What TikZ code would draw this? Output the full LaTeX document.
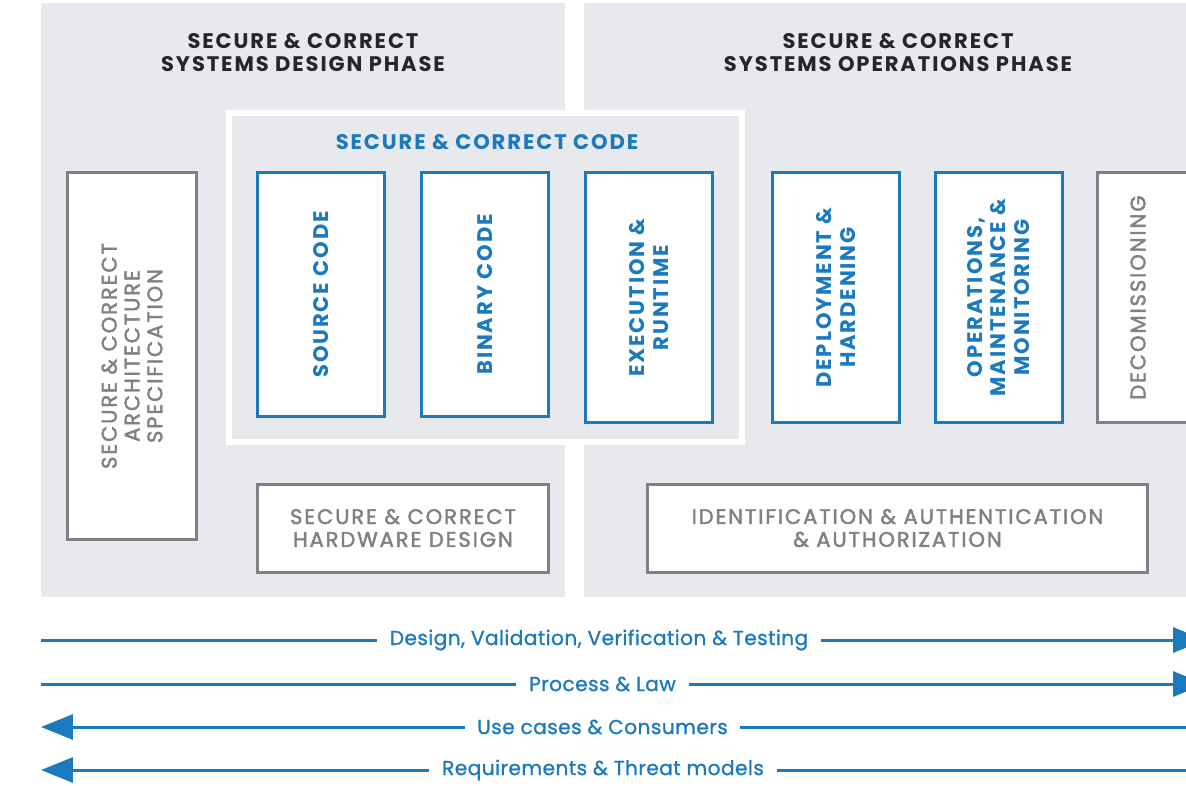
\documentclass[tikz,border=0pt]{standalone}
\usepackage{fontspec}
\setmainfont{Poppins}
\newfontfamily\capsfont[LetterSpace=9]{Poppins}
\newfontfamily\medcapsfont[LetterSpace=9,FakeBold=2]{Poppins}
\newfontfamily\flowfont[LetterSpace=2,FakeBold=1]{Poppins}
\usetikzlibrary{arrows.meta}

\definecolor{panelgray}{RGB}{232,233,236}
\definecolor{boxblue}{RGB}{27,121,190}
\definecolor{boxgray}{RGB}{128,128,135}
\definecolor{titledark}{RGB}{38,38,40}

\begin{document}
\begin{tikzpicture}[x=0.02cm, y=-0.02cm,
    panel/.style={fill=panelgray},
    codepanel/.style={fill=panelgray, draw=white, line width=0.11cm},
    heading/.style={font=\capsfont\bfseries\fontsize{12}{13}\selectfont, align=center},
    bluebox/.style={draw=boxblue, line width=0.06cm, fill=white, text=boxblue, inner sep=0pt,
      font=\capsfont\bfseries\fontsize{12}{13.5}\selectfont, align=center},
    graybox/.style={draw=boxgray, line width=0.06cm, fill=white, text=boxgray, inner sep=0pt,
      font=\medcapsfont\fontsize{12}{13}\selectfont, align=center},
    flowlabel/.style={text=boxblue, font=\flowfont\fontsize{11.5}{13}\selectfont, inner xsep=7pt},
    flow/.style={draw=boxblue, line width=0.06cm},
    tip/.style={-{Triangle[length=0.64cm, width=0.5cm]}}
  ]
  \useasboundingbox (0,0) rectangle (1186,785);
  \clip (0,0) rectangle (1186,785);

  % the two phases
  \fill[panel] (41,3) rectangle (565,597);
  \fill[panel] (584,3) rectangle (1200,597);
  \draw[codepanel] (229,113) rectangle (742,442);

  \node[heading, text=titledark] (design) at (303,52.5) {SECURE \& CORRECT\\SYSTEMS DESIGN PHASE};
  \node[heading, text=titledark] (operations) at (898,52.5) {SECURE \& CORRECT\\SYSTEMS OPERATIONS PHASE};
  \node[heading, text=boxblue] (code) at (487,142) {SECURE \& CORRECT CODE};

  % stages
  \node[graybox, rotate=90, minimum width=7.36cm, minimum height=2.6cm] (arch) at (132,356)
    {SECURE \& CORRECT\\ARCHITECTURE\\SPECIFICATION};
  \node[bluebox, rotate=90, minimum width=4.9cm, minimum height=2.56cm] (source) at (321,294.5) {SOURCE CODE};
  \node[bluebox, rotate=90, minimum width=4.9cm, minimum height=2.56cm] (binary) at (485,294.5) {BINARY CODE};
  \node[bluebox, rotate=90, minimum width=5.02cm, minimum height=2.56cm] (runtime) at (649,297.5)
    {EXECUTION \&\\RUNTIME};
  \node[bluebox, rotate=90, minimum width=5.02cm, minimum height=2.54cm] (deploy) at (836,297.5)
    {DEPLOYMENT \&\\HARDENING};
  \node[bluebox, rotate=90, minimum width=5.02cm, minimum height=2.54cm] (ops) at (998.5,297.5)
    {OPERATIONS,\\MAINTENANCE \&\\MONITORING};
  \node[graybox, rotate=90, minimum width=5.02cm, minimum height=2.56cm] (decom) at (1161,297.5) {};
  \node[graybox, draw=none, fill=none, rotate=90] (decomtext) at (1138,297.5) {DECOMISSIONING};

  \node[graybox, minimum width=5.84cm, minimum height=1.76cm] (hardware) at (403,528)
    {SECURE \& CORRECT\\HARDWARE DESIGN};
  \node[graybox, minimum width=10.02cm, minimum height=1.76cm] (identity) at (897.5,528)
    {IDENTIFICATION \& AUTHENTICATION\\\& AUTHORIZATION};

  % cross-cutting flows
  \coordinate (v1l) at (41,640);
  \coordinate (v1r) at (1205,640);
  \node[flowlabel] (verify) at (599,640) {Design, Validation, Verification \& Testing};
  \draw[flow] (v1l) -- (verify);
  \draw[flow, tip] (verify) -- (v1r);

  \coordinate (v2l) at (41,684);
  \coordinate (v2r) at (1205,684);
  \node[flowlabel] (law) at (602.5,684) {Process \& Law};
  \draw[flow] (v2l) -- (law);
  \draw[flow, tip] (law) -- (v2r);

  \coordinate (v3l) at (41,727);
  \coordinate (v3r) at (1205,727);
  \node[flowlabel] (usecases) at (602.5,727) {Use cases \& Consumers};
  \draw[flow] (v3r) -- (usecases);
  \draw[flow, tip] (usecases) -- (v3l);

  \coordinate (v4l) at (41,770);
  \coordinate (v4r) at (1205,770);
  \node[flowlabel] (threats) at (603,770) {Requirements \& Threat models};
  \draw[flow] (v4r) -- (threats);
  \draw[flow, tip] (threats) -- (v4l);
\end{tikzpicture}
\end{document}
